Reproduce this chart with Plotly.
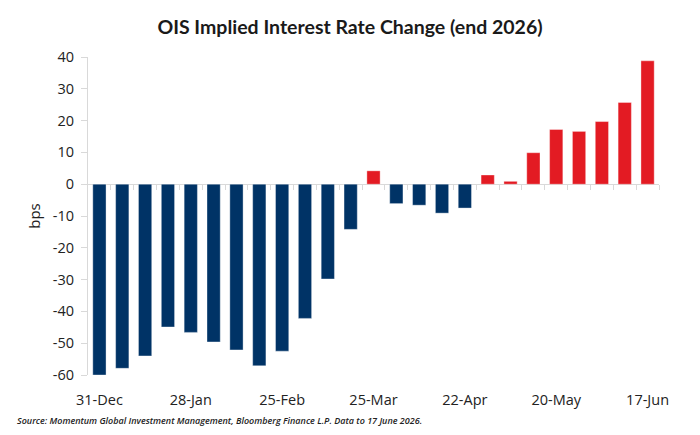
import plotly.graph_objects as go

dates = ["31-Dec", "07-Jan", "14-Jan", "21-Jan", "28-Jan", "04-Feb", "11-Feb", "18-Feb",
         "25-Feb", "04-Mar", "11-Mar", "18-Mar", "25-Mar", "01-Apr", "08-Apr", "15-Apr",
         "22-Apr", "29-Apr", "06-May", "13-May", "20-May", "27-May", "03-Jun", "10-Jun", "17-Jun"]
values = [-60.0, -57.9, -54.0, -44.9, -46.6, -49.6, -52.1, -57.1, -52.5, -42.2, -29.8, -14.2,
          4.2, -6.1, -6.6, -9.1, -7.5, 2.9, 0.9, 9.9, 17.2, 16.6, 19.7, 25.7, 38.8]
tick_labels = ["31-Dec", "28-Jan", "25-Feb", "25-Mar", "22-Apr", "20-May", "17-Jun"]
y_ticks = [40, 30, 20, 10, 0, -10, -20, -30, -40, -50, -60]

NAVY = "#003366"
RED = "#E31B23"
GRID = "#d9d9d9"

pos = list(range(len(values)))
colors = [RED if v > 0 else NAVY for v in values]
tickpos = [pos[dates.index(t)] for t in tick_labels]
ymin, ymax = min(y_ticks), max(y_ticks)

fig = go.Figure()
fig.add_trace(go.Bar(x=pos, y=values, marker=dict(color=colors, line=dict(color="rgba(255,255,255,0.45)", width=0.8)),
                     width=0.58, showlegend=False, hoverinfo="skip"))
fig.add_trace(go.Scatter(x=[], y=[], xaxis="x2", yaxis="y", showlegend=False))

fig.update_layout(
    width=700, height=435,
    margin=dict(l=88, r=41, t=57, b=60),
    paper_bgcolor="white", plot_bgcolor="white",
    title=dict(text="<b>OIS Implied Interest Rate Change (end 2026)</b>", x=0.5, xanchor="center",
               y=0.938, yanchor="middle", font=dict(family="Lato", size=19.5, color="#1a1a1a")),
    xaxis=dict(range=[-0.5, len(values) - 0.5], tickmode="array", tickvals=tickpos, ticktext=tick_labels,
               showline=False, showgrid=False, zeroline=False, ticks="", ticklabelstandoff=14,
               tickfont=dict(family="Open Sans", size=14.5, color="#222")),
    xaxis2=dict(overlaying="x", anchor="free", position=(0 - ymin) / (ymax - ymin), side="bottom",
                range=[-0.5, len(values) - 0.5], tickmode="array",
                tickvals=[p + 0.5 for p in pos], ticks="outside", ticklen=5, tickcolor=GRID, tickwidth=1,
                showticklabels=False, showline=False, showgrid=False, zeroline=False),
    yaxis=dict(range=[ymin, ymax], tickmode="array", tickvals=y_ticks, ticktext=[str(v) for v in y_ticks],
               showgrid=False,
               zeroline=True, zerolinecolor=GRID, zerolinewidth=1,
               showline=True, linecolor=GRID, linewidth=1, ticks="outside", ticklen=6, tickcolor=GRID,
               ticklabelstandoff=4,
               tickfont=dict(family="Open Sans", size=14.5, color="#222"),
               title=dict(text="bps", standoff=8, font=dict(family="Open Sans", size=15, color="#222"))),
    bargap=0.42,
    annotations=[dict(text="Source: Momentum Global Investment Management, Bloomberg Finance L.P. Data to 17 June 2026.",
                      xref="paper", yref="paper", x=(15 - 88) / 571, y=-45/318, xanchor="left", yanchor="middle",
                      showarrow=False,
                      font=dict(family="Open Sans", size=9, color="#222", style="italic", weight=600))],
)

fig.write_html("out.html")
